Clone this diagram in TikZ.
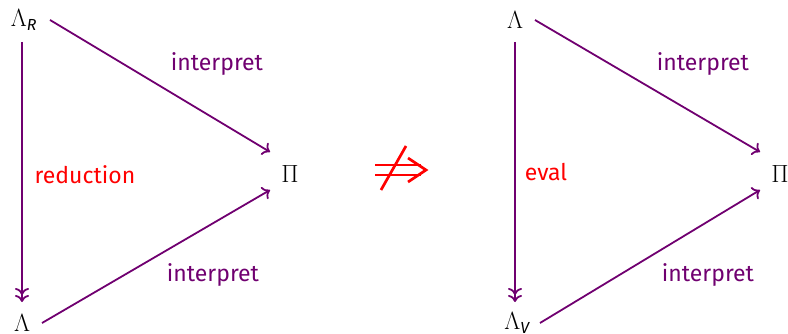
\documentclass[tikz,border=0pt]{standalone}
\usepackage{fontspec}
\newfontfamily\labelfont{Fira Sans}
\usetikzlibrary{arrows.meta}
\definecolor{arrpurple}{RGB}{112,0,112}
\begin{document}
\begin{tikzpicture}[x=1pt,y=-1pt,
  obj/.style={inner sep=0pt,font=\fontsize{23}{27}\selectfont},
  lab/.style={inner sep=0pt,font=\labelfont\fontsize{23}{27}\selectfont},
  arr/.style={draw=arrpurple,line width=1.8pt,-{To[length=7pt,width=14pt]}},
  darr/.style={draw=arrpurple,line width=1.8pt,-{To[length=7pt,width=14pt]To[length=7pt,width=14pt]}},
  nimp/.style={draw=red,line width=2.7pt}]
\useasboundingbox (0,0) rectangle (788,334);
% left diagram
\node[obj] (lr) at (24,20) {$\Lambda_{\mbox{\labelfont\itshape\fontsize{16}{18}\selectfont R}}$};
\node[obj] (l1) at (22,323) {$\Lambda$};
\node[obj] (p1) at (290,174) {$\Pi$};
\coordinate (a1) at (50,20); \coordinate (b1) at (270,152);
\coordinate (a2) at (22,42); \coordinate (b2) at (22,302);
\coordinate (a3) at (42,323); \coordinate (b3) at (270,190);
\draw[arr] (a1) -- (b1);
\draw[darr] (a2) -- (b2);
\draw[arr] (a3) -- (b3);
\node[lab,text=arrpurple] (t1) at (217,64) {interpret};
\node[lab,text=red] (t2) at (85,175) {reduction};
\node[lab,text=arrpurple] (t3) at (213,275) {interpret};
% not implies (drawn directly)
\coordinate (ni) at (401,170);
\draw[nimp] ([shift={(-26,-5)}]ni) -- ([shift={(20,-5)}]ni);
\draw[nimp] ([shift={(-26,5)}]ni) -- ([shift={(20,5)}]ni);
\draw[nimp,line join=miter] ([shift={(7,-12)}]ni) -- ([shift={(25,0)}]ni) -- ([shift={(7,12)}]ni);
\draw[nimp] ([shift={(-20,20)}]ni) -- ([shift={(5,-24)}]ni);
% right diagram
\node[obj] (r1) at (515,20) {$\Lambda$};
\node[obj] (lv) at (517,323) {$\Lambda_{\mbox{\labelfont\itshape\fontsize{16}{18}\selectfont V}}$};
\node[obj] (p2) at (780,174) {$\Pi$};
\coordinate (c1) at (535,20); \coordinate (d1) at (760,152);
\coordinate (c2) at (515,42); \coordinate (d2) at (515,302);
\coordinate (c3) at (540,323); \coordinate (d3) at (760,190);
\draw[arr] (c1) -- (d1);
\draw[darr] (c2) -- (d2);
\draw[arr] (c3) -- (d3);
\node[lab,text=arrpurple] (t4) at (703,64) {interpret};
\node[lab,text=red] (t5) at (546,172) {eval};
\node[lab,text=arrpurple] (t6) at (708,275) {interpret};
\end{tikzpicture}
\end{document}
